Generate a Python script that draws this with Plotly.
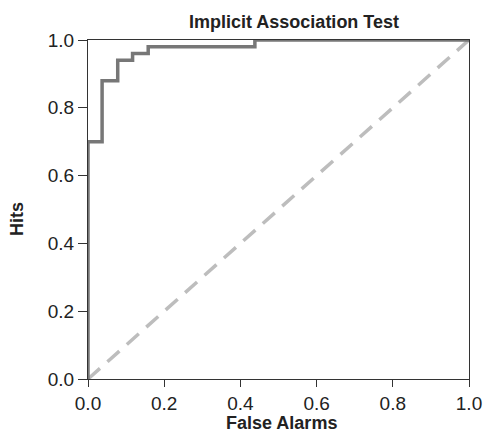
import plotly.graph_objects as go

# ROC curve data (step function)
false_alarms = [0.0, 0.0, 0.037, 0.037, 0.078, 0.078, 0.117, 0.117, 0.158, 0.158, 0.438, 0.438, 1.0]
hits =         [0.0, 0.70, 0.70, 0.88, 0.88, 0.94, 0.94, 0.96, 0.96, 0.98, 0.98, 1.0, 1.0]

chance_x = [0.0, 1.0]
chance_y = [0.0, 1.0]

tick_vals = [0.0, 0.2, 0.4, 0.6, 0.8, 1.0]
tick_text = ["0.0", "0.2", "0.4", "0.6", "0.8", "1.0"]

fig = go.Figure()
fig.add_trace(go.Scatter(x=chance_x, y=chance_y, mode="lines",
                         line=dict(color="#bdbdbd", width=3.5, dash="16px,10px"),
                         cliponaxis=False, showlegend=False, hoverinfo="skip"))
fig.add_trace(go.Scatter(x=false_alarms, y=hits, mode="lines",
                         line=dict(color="#777777", width=3.5),
                         cliponaxis=False, showlegend=False, hoverinfo="skip"))

font_family = "Liberation Sans, Arial, sans-serif"
axis_common = dict(range=[0, 1], tickvals=tick_vals, ticktext=tick_text,
                   showgrid=False, zeroline=False, showline=True, mirror=True,
                   linecolor="#333333", linewidth=1, ticks="outside",
                   tickcolor="#333333", tickwidth=1,
                   tickfont=dict(family=font_family, size=19, color="#222222"))

title_font = dict(family=font_family, size=18, color="#222222")

# plot area: x 88..472, y 40..379 (px)
fig.update_layout(
    width=494, height=432,
    margin=dict(l=88, r=22, t=40, b=53),
    paper_bgcolor="white", plot_bgcolor="white",
    xaxis=dict(**axis_common, ticklen=7),
    yaxis=dict(**axis_common, ticklen=9),
    annotations=[
        dict(text="<b>Implicit Association Test</b>", xref="paper", yref="paper",
             x=(296 - 88) / 384, y=1, xanchor="center", yanchor="middle",
             yshift=40 - 21.5, showarrow=False, font=title_font),
        dict(text="<b>False Alarms</b>", xref="paper", yref="paper",
             x=(283 - 88) / 384, y=0, xanchor="center", yanchor="middle",
             yshift=-(423 - 379), showarrow=False, font=title_font, borderpad=0),
        dict(text="<b>Hits</b>", xref="paper", yref="paper",
             x=0, y=(379 - 219) / 339, xanchor="center", yanchor="middle",
             xshift=-(88 - 17), textangle=-90, showarrow=False, font=title_font),
    ],
)

fig.write_html("out.html", config={"displayModeBar": False})

# remove default body margin so the figure sits at the window origin
with open("out.html", "r", encoding="utf-8") as f:
    html = f.read()
html = html.replace("<body>", '<body style="margin:0;padding:0;">', 1)
with open("out.html", "w", encoding="utf-8") as f:
    f.write(html)
